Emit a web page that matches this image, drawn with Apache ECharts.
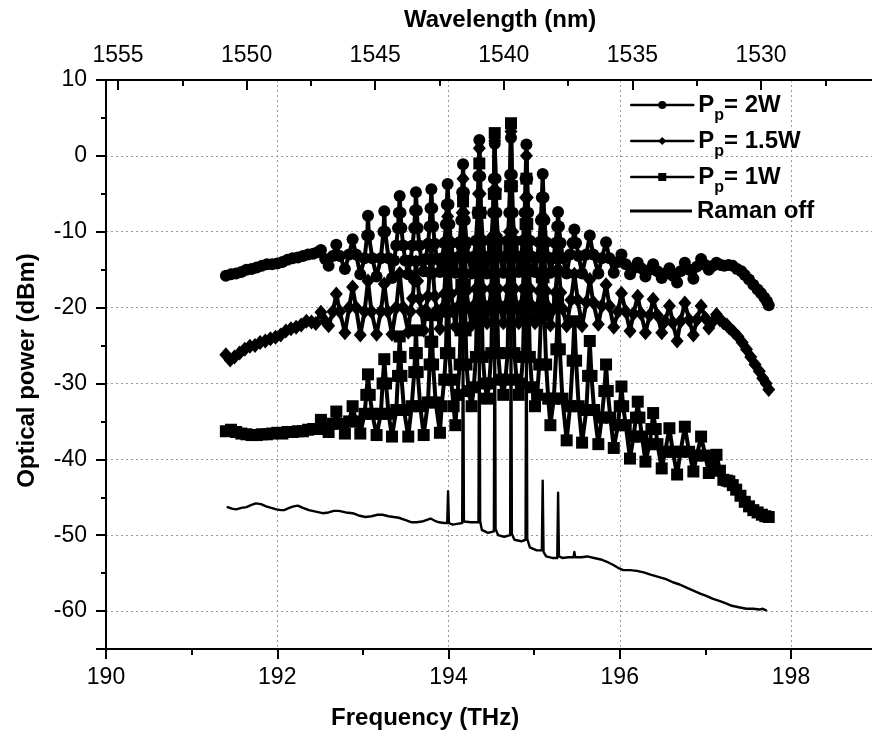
<!DOCTYPE html>
<html><head><meta charset="utf-8">
<script src="https://cdn.jsdelivr.net/npm/echarts@6/dist/echarts.min.js"></script>
<style>html,body{margin:0;padding:0;background:#fff}#c{width:872px;height:738px}</style>
</head><body><div id="c"></div>
<script>
// ---------- data ----------
const seriesNames = ['Pp= 2W', 'Pp= 1.5W', 'Pp= 1W', 'Raman off'];
const freqRange = [190, 200];          // bottom axis (THz)
const powerRange = [-65, 10];          // left axis (dBm)
const wavelengthRange = [1522.175, 1555.467]; // top axis (nm), reversed
const wavelengthLabelRange = [1530, 1555];    // labelled top ticks

// Pp = 2W (circles): [frequency THz, power dBm]
const pump2W = [
[191.40,-15.8],[191.46,-15.6],[191.52,-15.5],[191.58,-15.3],[191.64,-15.0],[191.70,-14.9],[191.76,-14.7],[191.82,-14.5],[191.88,-14.3],[191.94,-14.3],[192.00,-14.2],[192.06,-14.0],[192.12,-13.7],[192.18,-13.5],[192.24,-13.4],[192.30,-13.2],[192.36,-13.0],[192.42,-12.9],[192.47,-12.7],
[192.51,-12.4],[192.56,-13.6],[192.60,-14.5],[192.65,-13.2],[192.69,-11.7],[192.73,-13.2],[192.79,-14.9],[192.84,-13.0],[192.88,-11.0],[192.92,-13.0],[192.97,-15.6],
[193.02,-13.5],[193.05,-10.5],[193.06,-7.9],[193.07,-10.5],[193.11,-13.5],[193.16,-15.9],
[193.21,-13.5],[193.24,-10.0],[193.25,-7.3],[193.26,-10.0],[193.30,-13.5],[193.34,-16.1],
[193.365,-13.8],[193.39,-11.8],[193.41,-9.5],[193.42,-7.5],[193.43,-5.3],[193.44,-7.5],[193.45,-9.5],[193.47,-11.8],[193.495,-13.8],[193.53,-15.6],
[193.555,-13.8],[193.58,-11.8],[193.60,-9.5],[193.61,-7.2],[193.62,-4.8],[193.63,-7.2],[193.64,-9.5],[193.66,-11.8],[193.685,-13.8],[193.71,-15.2],
[193.735,-13.6],[193.76,-11.6],[193.78,-9.3],[193.79,-6.9],[193.80,-4.4],[193.81,-6.9],[193.82,-9.3],[193.84,-11.6],[193.865,-13.6],[193.90,-15.3],
[193.925,-13.5],[193.95,-11.5],[193.97,-9.0],[193.98,-6.4],[193.99,-3.7],[194.00,-6.4],[194.01,-9.0],[194.03,-11.5],[194.055,-13.5],[194.08,-15.4],
[194.105,-13.4],[194.13,-11.4],[194.15,-8.5],[194.16,-4.8],[194.17,-1.1],[194.18,-4.8],[194.19,-8.5],[194.21,-11.4],[194.235,-13.4],[194.27,-15.5],
[194.295,-13.3],[194.32,-11.2],[194.34,-7.5],[194.35,-2.7],[194.36,2.1],[194.37,-2.7],[194.38,-7.5],[194.40,-11.2],[194.425,-13.3],[194.45,-15.5],
[194.475,-13.3],[194.50,-11.2],[194.52,-7.5],[194.53,-3.0],[194.54,1.6],[194.55,-3.0],[194.56,-7.5],[194.58,-11.2],[194.605,-13.3],[194.64,-15.4],
[194.665,-13.3],[194.69,-11.2],[194.71,-7.5],[194.72,-2.5],[194.73,2.4],[194.74,-2.5],[194.75,-7.5],[194.77,-11.2],[194.795,-13.3],[194.82,-15.3],
[194.845,-13.3],[194.87,-11.2],[194.89,-7.5],[194.90,-3.0],[194.91,1.5],[194.92,-3.0],[194.93,-7.5],[194.95,-11.2],[194.975,-13.3],[195.01,-15.3],
[195.035,-13.4],[195.06,-11.4],[195.08,-8.5],[195.09,-5.5],[195.10,-2.4],[195.11,-5.5],[195.12,-8.5],[195.14,-11.4],[195.165,-13.4],[195.19,-15.4],
[195.225,-13.5],[195.25,-11.5],[195.27,-9.3],[195.28,-7.4],[195.29,-9.3],[195.31,-11.5],[195.335,-13.5],[195.38,-15.5],
[195.42,-13.0],[195.45,-11.5],[195.47,-9.7],[195.49,-11.5],[195.52,-13.2],[195.56,-15.5],
[195.61,-13.0],[195.65,-10.5],[195.69,-13.0],[195.75,-15.5],
[195.79,-13.5],[195.84,-11.4],[195.88,-13.5],[195.93,-15.4],
[195.98,-14.0],[196.02,-13.0],[196.07,-14.3],[196.12,-15.6],
[196.16,-14.8],[196.21,-14.1],[196.25,-14.8],[196.30,-15.9],
[196.35,-15.0],[196.39,-14.3],[196.44,-15.2],[196.49,-16.1],
[196.53,-15.5],[196.58,-14.8],[196.62,-15.8],[196.67,-16.7],
[196.71,-15.2],[196.76,-14.1],[196.81,-15.0],[196.86,-16.2],
[196.90,-14.6],[196.95,-13.6],[197.00,-14.4],[197.04,-15.0],
[197.09,-14.5],[197.13,-14.1],[197.18,-14.4],[197.22,-14.5],
[197.27,-14.4],[197.32,-14.5],[197.37,-14.9],[197.42,-15.2],[197.46,-15.7],[197.51,-16.3],[197.56,-17.0],[197.61,-17.6],[197.65,-18.1],[197.69,-18.7],[197.72,-19.2],[197.74,-19.7]
];

// Pp = 1.5W (diamonds)
const pump15W = [
[191.40,-26.2],[191.45,-26.9],[191.50,-26.5],[191.56,-26.0],[191.62,-25.5],[191.68,-25.1],[191.74,-25.0],[191.80,-24.6],[191.86,-24.4],[191.92,-24.1],[191.98,-23.9],[192.04,-23.6],[192.10,-23.1],[192.16,-22.8],[192.22,-22.6],[192.28,-22.3],[192.34,-21.8],[192.40,-21.9],[192.45,-22.1],
[192.51,-20.6],[192.56,-21.8],[192.60,-22.4],[192.65,-20.5],[192.69,-18.2],[192.73,-20.5],[192.79,-23.3],[192.84,-20.0],[192.88,-17.3],[192.92,-20.0],[192.97,-23.6],
[193.02,-20.5],[193.06,-16.5],[193.10,-20.5],[193.16,-23.5],
[193.21,-20.5],[193.25,-16.9],[193.29,-20.5],[193.34,-23.5],
[193.39,-20.0],[193.43,-15.5],[193.47,-20.0],[193.53,-23.2],
[193.555,-20.5],[193.58,-18.8],[193.60,-16.5],[193.62,-14.0],[193.64,-16.5],[193.66,-18.8],[193.685,-20.5],[193.71,-23.0],
[193.735,-20.3],[193.76,-18.5],[193.78,-15.5],[193.79,-13.8],[193.80,-12.0],[193.81,-13.8],[193.82,-15.5],[193.84,-18.5],[193.865,-20.3],[193.90,-22.8],
[193.925,-20.2],[193.95,-18.2],[193.97,-14.0],[193.98,-11.0],[193.99,-8.0],[194.00,-11.0],[194.01,-14.0],[194.03,-18.2],[194.055,-20.2],[194.08,-22.5],
[194.105,-20.0],[194.13,-17.8],[194.15,-12.0],[194.16,-7.5],[194.17,-3.0],[194.18,-7.5],[194.19,-12.0],[194.21,-17.8],[194.235,-20.0],[194.27,-22.3],
[194.295,-19.8],[194.32,-17.5],[194.34,-11.0],[194.35,-5.0],[194.36,1.0],[194.37,-5.0],[194.38,-11.0],[194.40,-17.5],[194.425,-19.8],[194.45,-22.0],
[194.475,-19.8],[194.50,-17.5],[194.52,-10.5],[194.53,-4.5],[194.54,2.0],[194.55,-4.5],[194.56,-10.5],[194.58,-17.5],[194.605,-19.8],[194.64,-22.0],
[194.665,-19.8],[194.69,-17.5],[194.71,-10.0],[194.72,-4.0],[194.73,3.2],[194.74,-4.0],[194.75,-10.0],[194.77,-17.5],[194.795,-19.8],[194.82,-22.0],
[194.845,-19.8],[194.87,-17.5],[194.89,-11.0],[194.90,-5.5],[194.91,0.0],[194.92,-5.5],[194.93,-11.0],[194.95,-17.5],[194.975,-19.8],[195.01,-22.0],
[195.035,-20.0],[195.06,-17.8],[195.08,-13.0],[195.10,-8.0],[195.12,-13.0],[195.14,-17.8],[195.165,-20.0],[195.19,-22.3],
[195.225,-20.2],[195.25,-18.0],[195.27,-15.0],[195.28,-12.0],[195.29,-15.0],[195.31,-18.0],[195.335,-20.2],[195.38,-22.4],
[195.43,-19.0],[195.47,-15.6],[195.51,-19.0],[195.56,-22.4],
[195.61,-19.3],[195.65,-16.3],[195.69,-19.3],[195.75,-22.2],
[195.79,-19.8],[195.84,-17.0],[195.88,-19.8],[195.93,-22.6],
[195.98,-20.5],[196.02,-18.1],[196.07,-20.5],[196.12,-23.1],
[196.16,-20.8],[196.21,-18.5],[196.25,-20.8],[196.30,-23.3],
[196.35,-21.0],[196.39,-18.9],[196.44,-21.0],[196.49,-23.3],
[196.53,-21.8],[196.58,-19.8],[196.62,-22.0],[196.67,-24.4],
[196.71,-21.8],[196.76,-19.4],[196.81,-21.6],[196.86,-23.6],
[196.90,-21.6],[196.95,-19.8],[197.00,-21.4],[197.04,-22.7],
[197.09,-21.8],[197.13,-20.9],[197.17,-21.6],[197.21,-22.0],
[197.25,-22.3],[197.28,-22.7],[197.33,-23.2],[197.38,-23.8],[197.43,-24.6],[197.48,-25.5],[197.53,-26.5],[197.58,-27.5],[197.63,-28.4],[197.67,-29.3],[197.71,-30.0],[197.74,-30.8]
];

// Pp = 1W (squares)
const pump1W = [
[191.40,-36.3],[191.46,-36.1],[191.52,-36.4],[191.58,-36.6],[191.64,-36.7],[191.70,-36.8],[191.76,-36.8],[191.82,-36.7],[191.88,-36.7],[191.94,-36.6],[192.00,-36.5],[192.06,-36.6],[192.12,-36.4],[192.18,-36.4],[192.24,-36.3],[192.30,-36.3],[192.36,-36.1],[192.42,-36.0],[192.47,-36.0],
[192.51,-34.8],[192.56,-36.0],[192.60,-36.4],[192.65,-35.3],[192.69,-33.7],[192.73,-35.3],[192.79,-36.6],[192.84,-35.0],[192.88,-33.0],[192.92,-35.0],[192.97,-36.6],
[193.02,-34.0],[193.04,-31.5],[193.06,-28.8],[193.08,-31.5],[193.11,-34.0],[193.16,-36.8],
[193.21,-34.0],[193.23,-30.0],[193.25,-26.8],[193.27,-30.0],[193.30,-34.0],[193.34,-37.0],
[193.39,-33.5],[193.41,-29.0],[193.42,-26.5],[193.43,-23.8],[193.44,-26.5],[193.45,-29.0],[193.48,-33.5],[193.53,-37.0],
[193.57,-33.0],[193.60,-28.5],[193.61,-26.0],[193.62,-23.0],[193.63,-26.0],[193.64,-28.5],[193.67,-33.0],[193.71,-36.8],
[193.76,-32.5],[193.78,-27.5],[193.79,-24.5],[193.80,-21.0],[193.81,-24.5],[193.82,-27.5],[193.85,-32.5],[193.90,-36.5],
[193.92,-33.0],[193.95,-29.5],[193.97,-26.0],[193.98,-20.5],[193.99,-15.0],[194.00,-20.5],[194.01,-26.0],[194.03,-29.5],[194.06,-33.0],[194.08,-35.5],
[194.105,-31.5],[194.13,-27.5],[194.14,-23.0],[194.15,-17.0],[194.16,-11.5],[194.17,-6.0],[194.18,-11.5],[194.19,-17.0],[194.20,-23.0],[194.21,-27.5],[194.235,-31.0],[194.27,-33.0],
[194.295,-30.5],[194.32,-26.5],[194.33,-21.0],[194.34,-14.0],[194.35,-7.5],[194.36,-1.0],[194.37,-7.5],[194.38,-14.0],[194.39,-21.0],[194.40,-26.5],[194.425,-30.0],[194.45,-32.0],
[194.475,-30.0],[194.50,-26.0],[194.51,-20.0],[194.52,-12.5],[194.53,-5.0],[194.54,3.0],[194.55,-5.0],[194.56,-12.5],[194.57,-20.0],[194.58,-26.0],[194.605,-29.5],[194.64,-31.5],
[194.665,-29.5],[194.69,-26.0],[194.70,-20.0],[194.71,-12.0],[194.72,-4.0],[194.73,4.3],[194.74,-4.0],[194.75,-12.0],[194.76,-20.0],[194.77,-26.0],[194.795,-29.5],[194.82,-31.5],
[194.845,-30.0],[194.87,-26.5],[194.88,-21.5],[194.89,-15.0],[194.90,-9.0],[194.91,-3.0],[194.92,-9.0],[194.93,-15.0],[194.94,-21.5],[194.95,-26.5],[194.975,-30.5],[195.01,-33.0],
[195.035,-31.5],[195.06,-27.5],[195.08,-21.0],[195.09,-16.0],[195.10,-12.0],[195.11,-16.0],[195.12,-21.0],[195.14,-27.5],[195.165,-32.0],[195.19,-35.5],
[195.23,-32.0],[195.26,-25.5],[195.28,-19.0],[195.30,-25.5],[195.33,-32.0],[195.38,-37.5],
[195.42,-33.0],[195.45,-27.0],[195.47,-21.8],[195.49,-27.0],[195.52,-33.0],[195.56,-37.8],
[195.61,-33.5],[195.63,-29.0],[195.65,-24.4],[195.67,-29.0],[195.70,-33.5],[195.75,-38.0],
[195.79,-34.5],[195.82,-31.0],[195.84,-27.5],[195.86,-31.0],[195.89,-34.5],[195.93,-38.5],
[195.98,-35.5],[196.00,-33.0],[196.02,-30.4],[196.04,-33.0],[196.07,-35.5],[196.12,-39.9],
[196.16,-37.0],[196.19,-34.5],[196.21,-32.4],[196.23,-34.5],[196.26,-37.0],[196.30,-40.3],
[196.35,-38.0],[196.37,-36.0],[196.39,-33.9],[196.42,-36.0],[196.44,-38.0],[196.49,-41.2],
[196.53,-39.0],[196.58,-35.9],[196.62,-39.0],[196.67,-42.0],
[196.71,-39.0],[196.76,-35.7],[196.81,-39.0],[196.86,-41.6],
[196.90,-39.5],[196.95,-37.0],[197.00,-39.5],[197.04,-41.8],
[197.09,-40.5],[197.13,-39.4],[197.17,-41.5],[197.21,-42.7],
[197.25,-42.8],[197.28,-42.9],[197.32,-43.4],[197.36,-44.0],[197.41,-44.8],[197.46,-45.6],[197.51,-46.2],[197.56,-46.7],[197.61,-47.0],[197.66,-47.3],[197.70,-47.5],[197.74,-47.6]
];

// Raman off (plain line)
const ramanOff = [
[191.42,-46.3],[191.47,-46.5],[191.52,-46.6],[191.58,-46.4],[191.64,-46.3],[191.70,-46.0],[191.75,-45.8],[191.81,-45.9],[191.87,-46.2],[191.93,-46.4],[191.99,-46.6],[192.04,-46.7],[192.08,-46.7],[192.14,-46.4],[192.19,-46.2],[192.24,-46.1],[192.30,-46.4],[192.37,-46.7],[192.45,-46.9],[192.53,-47.1],[192.60,-47.0],[192.66,-46.8],[192.72,-46.8],[192.80,-47.0],[192.88,-47.1],[192.95,-47.4],[193.03,-47.6],[193.10,-47.5],[193.17,-47.3],[193.23,-47.3],[193.30,-47.5],[193.36,-47.6],[193.42,-47.7],[193.50,-48.0],[193.57,-48.3],[193.63,-48.3],[193.69,-48.2],[193.74,-48.0],[193.79,-47.8],[193.84,-48.1],[193.89,-48.3],[193.95,-48.4],
[193.985,-48.4],[193.995,-44.2],[194.005,-48.4],[194.05,-48.6],[194.10,-48.5],[194.16,-48.4],[194.17,-12.0],[194.18,-48.2],[194.26,-48.3],[194.35,-48.3],[194.36,-5.0],[194.37,-48.2],[194.39,-49.3],[194.46,-49.7],[194.53,-49.5],[194.54,1.0],[194.55,-49.2],[194.58,-50.0],[194.65,-50.2],[194.72,-50.0],[194.73,2.0],[194.74,-49.8],[194.77,-50.6],[194.85,-50.8],[194.90,-50.6],[194.91,-6.0],[194.92,-50.5],[194.95,-51.6],[195.03,-52.0],[195.09,-52.0],[195.10,-42.8],[195.11,-52.2],[195.14,-52.8],[195.21,-53.0],[195.27,-53.0],[195.28,-44.4],[195.29,-52.8],[195.33,-53.0],[195.40,-52.9],[195.46,-52.9],[195.47,-52.2],[195.48,-52.9],
[195.55,-52.9],[195.62,-52.8],[195.70,-53.0],[195.78,-53.2],[195.85,-53.5],[195.92,-53.9],[195.98,-54.3],[196.04,-54.6],[196.12,-54.6],[196.20,-54.7],[196.28,-54.9],[196.36,-55.2],[196.45,-55.5],[196.54,-55.8],[196.62,-56.2],[196.70,-56.5],[196.78,-56.9],[196.86,-57.3],[196.94,-57.7],[197.01,-58.0],[197.09,-58.4],[197.17,-58.7],[197.24,-59.0],[197.31,-59.3],[197.39,-59.5],[197.48,-59.7],[197.56,-59.7],[197.63,-59.8],[197.67,-59.7],[197.71,-59.9]
];

// ---------- chart ----------
const FONT = '"Liberation Sans", Arial, Helvetica, sans-serif';
const BLACK = '#000';
const GRIDC = '#9a9a9a';
const chart = echarts.init(document.getElementById('c'), null, {renderer: 'canvas', width: 872, height: 738});

const axisCommon = {
  axisLine: {show: true, onZero: false, lineStyle: {color: BLACK, width: 2}},
  axisTick: {show: true, length: 10, lineStyle: {color: BLACK, width: 2}},
  minorTick: {show: true, splitNumber: 2, length: 6, lineStyle: {color: BLACK, width: 2}},
  axisLabel: {color: BLACK, fontSize: 23, fontFamily: FONT},
  nameTextStyle: {color: BLACK, fontSize: 24, fontWeight: 'bold', fontFamily: FONT},
  nameMoveOverlap: false
};
const merge = (a, b) => {
  const out = Object.assign({}, a);
  for (const k in b) {
    if (b[k] && typeof b[k] === 'object' && !Array.isArray(b[k]) && a[k] && typeof a[k] === 'object') out[k] = Object.assign({}, a[k], b[k]);
    else out[k] = b[k];
  }
  return out;
};
const isMult = (v, m) => Math.abs(v / m - Math.round(v / m)) < 1e-6;

const mkSeries = (i, data, symbol, size) => ({
  name: seriesNames[i], type: 'line', data: data,
  xAxisIndex: 0, yAxisIndex: 0,
  symbol: symbol, symbolSize: size, showSymbol: symbol !== 'none', showAllSymbol: true,
  lineStyle: {color: BLACK, width: symbol === 'none' ? 2.4 : 4, join: 'round', cap: 'round'},
  itemStyle: {color: BLACK, borderWidth: 0},
  emphasis: {disabled: true}, silent: true, clip: true, z: 2 + i
});

const legendTops = [86, 122, 158, 199];
const richText = {
  a: {fontFamily: FONT, fontWeight: 'bold', fontSize: 24, lineHeight: 28, color: BLACK},
  b: {fontFamily: FONT, fontWeight: 'bold', fontSize: 16, lineHeight: 16, padding: [22, 0, 0, 0], color: BLACK}
};

const option = {
  animation: false,
  backgroundColor: '#fff',
  grid: {left: 106, top: 80, right: -90.25, bottom: 89, containLabel: false, outerBoundsMode: 'none', show: false},
  xAxis: [
    merge(axisCommon, {
      type: 'value', position: 'bottom', min: freqRange[0], max: freqRange[1], interval: 2,
      axisTick: {inside: false},
      axisLabel: {margin: 17},
      splitLine: {show: true, lineStyle: {color: GRIDC, type: [2, 3], width: 1}},
      name: 'Frequency (THz)', nameLocation: 'middle', nameGap: 57,
      nameTextStyle: {padding: [0, 218, 0, 0]}
    }),
    merge(axisCommon, {
      type: 'value', position: 'top', min: wavelengthRange[0], max: wavelengthRange[1], inverse: true, splitNumber: 6,
      axisTick: {inside: true},
      axisLabel: {margin: 13, formatter: v => (isMult(v, 5) && v >= wavelengthLabelRange[0] && v <= wavelengthLabelRange[1]) ? String(Math.round(v)) : ''},
      splitLine: {show: false},
      name: 'Wavelength (nm)', nameLocation: 'middle', nameGap: 48,
      nameTextStyle: {padding: [0, 68, 0, 0]}
    })
  ],
  yAxis: [
    merge(axisCommon, {
      type: 'value', min: powerRange[0], max: powerRange[1], splitNumber: 8,
      axisTick: {inside: false},
      minorTick: {length: 5},
      axisLabel: {margin: 19, formatter: v => isMult(v, 10) ? String(Math.round(v)) : ''},
      splitLine: {show: true, lineStyle: {color: GRIDC, type: [2, 3], width: 1}},
      name: 'Optical power (dBm)', nameLocation: 'middle', nameGap: 67,
      nameTextStyle: {padding: [0, 12, 0, 0]}
    })
  ],
  legend: seriesNames.map((n, i) => {
    const isLine = n === 'Raman off';
    return {
      data: isLine ? [{name: n, icon: 'rect'}] : [n],
      left: 630, top: legendTops[i], orient: 'horizontal', padding: 0,
      itemWidth: 62, itemHeight: isLine ? 3 : 10, selectedMode: false,
      lineStyle: {width: 2.5},
      itemStyle: isLine ? {color: BLACK} : undefined,
      textStyle: {color: BLACK, fontFamily: FONT, fontWeight: 'bold', fontSize: 24, rich: richText},
      formatter: name => isLine ? '{a|Raman off}' : '{a|P}{b|p}{a|' + name.slice(2) + '}'
    };
  }),
  series: [
    mkSeries(0, pump2W, 'circle', 12),
    mkSeries(1, pump15W, 'diamond', [13, 15]),
    mkSeries(2, pump1W, 'rect', 12),
    mkSeries(3, ramanOff, 'none', 0)
  ]
};
chart.setOption(option);
</script>
</body></html>
